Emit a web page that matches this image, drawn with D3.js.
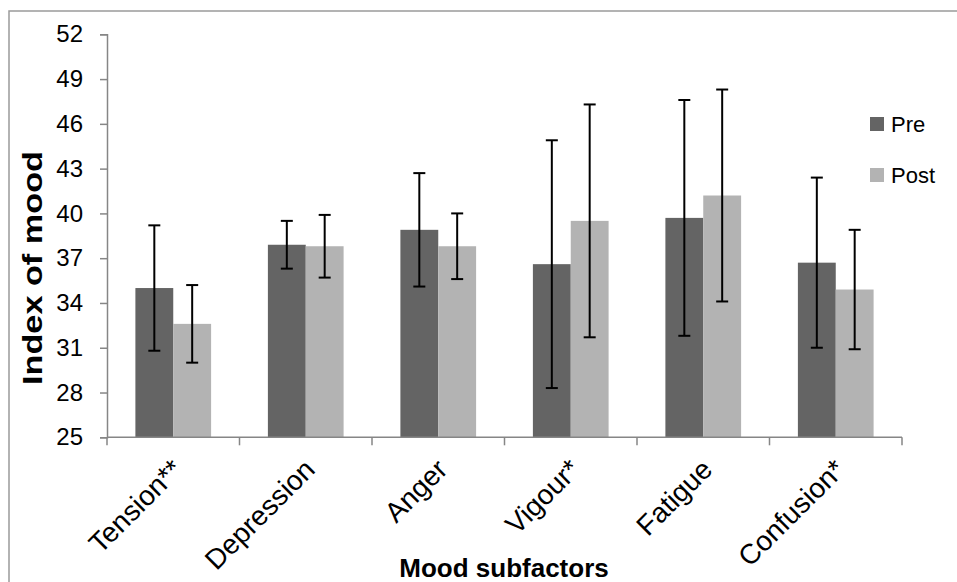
<!DOCTYPE html>
<html>
<head>
<meta charset="utf-8">
<script src="https://cdn.jsdelivr.net/npm/d3@7/dist/d3.min.js"></script>
<style>
  html, body { margin: 0; padding: 0; background: #fff; }
  svg { display: block; font-family: "Liberation Sans", Arial, sans-serif; }
</style>
</head>
<body>
<svg id="chart" width="957" height="582"></svg>
<script>
// Mood subfactor scores before and after, with error bars
const categories = ["Tension**", "Depression", "Anger", "Vigour*", "Fatigue", "Confusion*"];
const seriesNames = ["Pre", "Post"];
const preMeans  = [35.0, 37.9, 38.9, 36.6, 39.7, 36.7];
const postMeans = [32.6, 37.8, 37.8, 39.5, 41.2, 34.9];
const preErrors  = [4.2, 1.6, 3.8, 8.3, 7.9, 5.7];
const postErrors = [2.6, 2.1, 2.2, 7.8, 7.1, 4.0];
const yTicks = [25, 28, 31, 34, 37, 40, 43, 46, 49, 52];
const colors = ["#646464", "#b3b3b3"];

const svg = d3.select("#chart");
const W = 957, H = 582;
const plot = { left: 107, right: 902, top: 34.3, bottom: 437.3 };
const FONT = "'Liberation Sans', Arial, sans-serif";

// outer chart frame (runs off the right and bottom edges)
svg.append("rect")
  .attr("x", 9).attr("y", 11)
  .attr("width", W + 20).attr("height", H + 20)
  .attr("fill", "none").attr("stroke", "#9a9a9a").attr("stroke-width", 1.5);

const x0 = d3.scaleBand().domain(categories).range([plot.left, plot.right]).paddingInner(0).paddingOuter(0);
const x1 = d3.scaleBand().domain(seriesNames).range([0, x0.bandwidth()]).paddingInner(0).paddingOuter(0.75);
const y = d3.scaleLinear().domain([25, 52]).range([plot.bottom, plot.top]);

const rows = categories.map((c, i) => ({
  cat: c,
  vals: [
    { s: "Pre",  v: preMeans[i],  e: preErrors[i],  col: colors[0] },
    { s: "Post", v: postMeans[i], e: postErrors[i], col: colors[1] }
  ]
}));

// y axis
const yAxis = d3.axisLeft(y).tickValues(yTicks).tickSize(7).tickPadding(17).tickSizeOuter(7);
const gy = svg.append("g").attr("transform", `translate(${plot.left},0)`).call(yAxis)
  .attr("font-size", null).attr("font-family", null);
gy.select(".domain").attr("stroke", "#868686").attr("stroke-width", 1.5);
gy.selectAll(".tick line").attr("stroke", "#868686").attr("stroke-width", 1.5);
gy.selectAll(".tick text")
  .style("font-size", "24px").style("font-family", FONT).attr("fill", "#000");

// bars
const groups = svg.append("g").selectAll("g").data(rows).join("g")
  .attr("transform", d => `translate(${x0(d.cat)},0)`);

groups.selectAll("rect").data(d => d.vals).join("rect")
  .attr("x", d => x1(d.s))
  .attr("y", d => y(d.v))
  .attr("width", x1.bandwidth())
  .attr("height", d => y(25) - y(d.v))
  .attr("fill", d => d.col);

// x axis with boundary ticks between categories
const gx = svg.append("g").attr("transform", `translate(0,${plot.bottom})`);
gx.append("line").attr("x1", plot.left).attr("x2", plot.right)
  .attr("stroke", "#868686").attr("stroke-width", 1.5);
const bounds = categories.map(c => x0(c)).concat([plot.right]);
gx.selectAll("line.tk").data(bounds).join("line").attr("class", "tk")
  .attr("x1", d => d).attr("x2", d => d).attr("y1", 0).attr("y2", 8)
  .attr("stroke", "#868686").attr("stroke-width", 1.5);

// error bars
const eb = groups.selectAll("g.err").data(d => d.vals).join("g").attr("class", "err")
  .attr("transform", d => `translate(${x1(d.s) + x1.bandwidth() / 2},0)`)
  .attr("stroke", "#000").attr("stroke-width", 2);
eb.append("line").attr("y1", d => y(d.v + d.e)).attr("y2", d => y(d.v - d.e));
eb.append("line").attr("x1", -6).attr("x2", 6).attr("y1", d => y(d.v + d.e)).attr("y2", d => y(d.v + d.e));
eb.append("line").attr("x1", -6).attr("x2", 6).attr("y1", d => y(d.v - d.e)).attr("y2", d => y(d.v - d.e));

// rotated category labels
svg.append("g").selectAll("text").data(categories).join("text")
  .attr("transform", d => `translate(${x0(d) + x0.bandwidth() / 2 - 3},${plot.bottom + 20}) rotate(-45)`)
  .attr("text-anchor", "end")
  .attr("dy", "0.7em")
  .style("font-size", "28px")
  .text(d => d);

// axis titles
svg.append("text")
  .attr("transform", `translate(42,268) rotate(-90)`)
  .attr("text-anchor", "middle")
  .attr("textLength", 234).attr("lengthAdjust", "spacingAndGlyphs")
  .style("font-size", "27px").attr("font-weight", "bold")
  .text("Index of mood");

svg.append("text")
  .attr("x", 504).attr("y", 577)
  .attr("text-anchor", "middle")
  .style("font-size", "26px").attr("font-weight", "bold")
  .text("Mood subfactors");

// legend
const lg = svg.append("g").selectAll("g").data(seriesNames).join("g")
  .attr("transform", (d, i) => `translate(870,${117 + i * 51})`);
lg.append("rect").attr("width", 14).attr("height", 14).attr("fill", (d, i) => colors[i]);
lg.append("text").attr("x", 21).attr("y", 15).style("font-size", "22px").text(d => d);
</script>
</body>
</html>
